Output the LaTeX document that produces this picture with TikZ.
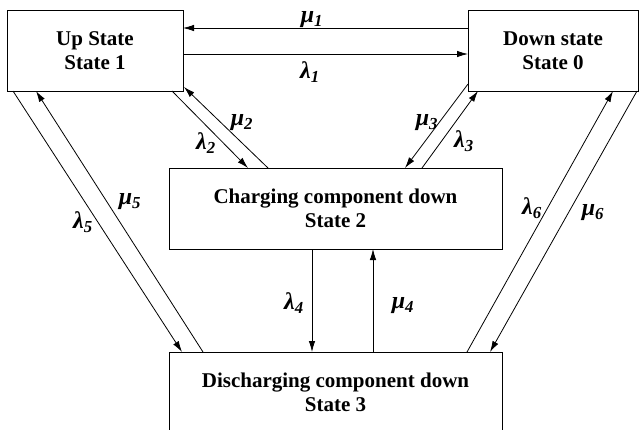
\documentclass[tikz,border=0pt]{standalone}
\usepackage{fontspec}
\setmainfont{Liberation Serif}
\usetikzlibrary{arrows.meta,calc}
\begin{document}
\begin{tikzpicture}[x=1pt,y=-1pt,
  box/.style={draw,line width=0.9pt,outer sep=0pt,inner sep=0pt,minimum height=81pt,align=center,font=\fontsize{21}{24}\selectfont\bfseries},
  conn/.style={line width=0.8pt},
  arr/.style={conn,-{Latex[length=11pt,width=6.5pt]}},
  rate/.style={font=\fontsize{24}{26}\selectfont\bfseries\itshape,inner sep=0pt}]
\useasboundingbox (0,0) rectangle (639,429);
\clip (0,0) rectangle (639,429);
% states
\node[box,minimum width=176pt] (up) at (95,50.5) {Up State\\State 1};
\node[box,minimum width=170pt] (down) at (553,50.5) {Down state\\State 0};
\node[box,minimum width=333pt] (chg) at (335.5,208.5) {Charging component down\\State 2};
\node[box,minimum width=333pt] (dis) at (335.5,392.5) {Discharging component down\\State 3};
% transitions
\draw[arr] ($(down.north west)+(0,18)$) -- ($(up.north east)+(0,18)$);
\draw[arr] ($(up.north east)+(0,44)$) -- ($(down.north west)+(0,44)$);
\draw[arr] ($(up.south east)+(-11,0)$) -- ($(chg.north west)+(79,0)$);
\draw[arr] ($(chg.north west)+(99,0)$) -- ($(up.south east)+(1,-4)$);
\draw[arr] ($(down.south west)+(0,-7)$) -- ($(chg.north east)+(-97,0)$);
\draw[arr] ($(chg.north east)+(-80,0)$) -- ($(down.south west)+(10,0)$);
\draw[arr] ($(chg.south west)+(143,0)$) -- ($(dis.north west)+(143,0)$);
\draw[arr] ($(dis.north west)+(204,0)$) -- ($(chg.south west)+(204,0)$);
\draw[arr] ($(up.south west)+(6,0)$) -- ($(dis.north west)+(13,0)$);
\draw[arr] ($(dis.north west)+(34,0)$) -- ($(up.south west)+(29,0)$);
\draw[arr] ($(dis.north east)+(-35,0)$) -- ($(down.south west)+(145,0)$);
\draw[arr] ($(down.south east)+(-1,0)$) -- ($(dis.north east)+(-12,0)$);
% rate labels
\node[rate] (m1) at (312,20) {μ\textsubscript{1}};
\node[rate] (l1) at (310,72) {λ\textsubscript{1}};
\node[rate] (m2) at (242,123) {μ\textsubscript{2}};
\node[rate] (l2) at (206,143) {λ\textsubscript{2}};
\node[rate] (m3) at (427,123) {μ\textsubscript{3}};
\node[rate] (l3) at (464,141) {λ\textsubscript{3}};
\node[rate] (l4) at (294,303) {λ\textsubscript{4}};
\node[rate] (m4) at (403,306) {μ\textsubscript{4}};
\node[rate] (l5) at (83,222) {λ\textsubscript{5}};
\node[rate] (m5) at (130,202) {μ\textsubscript{5}};
\node[rate] (l6) at (532,208) {λ\textsubscript{6}};
\node[rate] (m6) at (593,213) {μ\textsubscript{6}};
\end{tikzpicture}
\end{document}
